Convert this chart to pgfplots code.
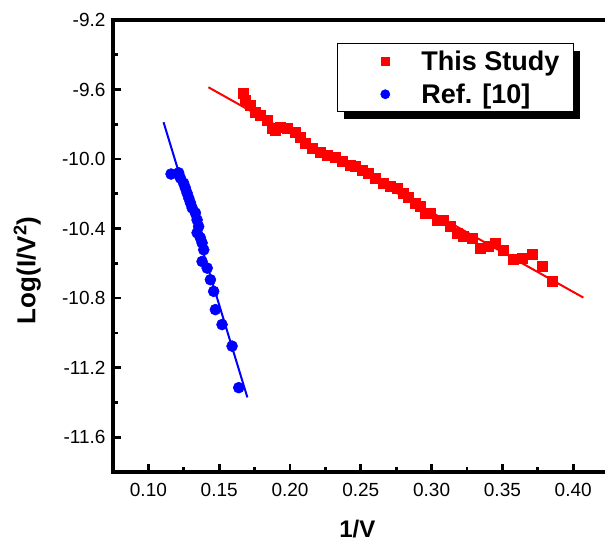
\documentclass[border=0pt]{standalone}
\usepackage{pgfplots}
\pgfplotsset{compat=1.18}
\usepackage{fontspec}
\setmainfont{Liberation Sans}
\usetikzlibrary{shadows}

\pgfplotstableread{
x y
0.1669 -9.623
0.1685 -9.662
0.1720 -9.690
0.1756 -9.729
0.1791 -9.748
0.1838 -9.776
0.1874 -9.824
0.1897 -9.834
0.1932 -9.815
0.1980 -9.824
0.2038 -9.843
0.2073 -9.872
0.2109 -9.910
0.2156 -9.939
0.2215 -9.958
0.2262 -9.977
0.2321 -9.987
0.2368 -10.015
0.2427 -10.034
0.2462 -10.044
0.2509 -10.063
0.2556 -10.082
0.2603 -10.111
0.2662 -10.139
0.2709 -10.159
0.2756 -10.168
0.2803 -10.197
0.2838 -10.218
0.2886 -10.254
0.2921 -10.274
0.2956 -10.311
0.2992 -10.311
0.3039 -10.350
0.3085 -10.350
0.3133 -10.388
0.3180 -10.426
0.3227 -10.446
0.3286 -10.455
0.3345 -10.512
0.3403 -10.503
0.3451 -10.483
0.3509 -10.526
0.3580 -10.579
0.3639 -10.569
0.3710 -10.550
0.3780 -10.618
0.3851 -10.704
}\thisstudy

\pgfplotstableread{
x y
0.1160 -10.086
0.1214 -10.079
0.1226 -10.109
0.1249 -10.139
0.1261 -10.166
0.1273 -10.195
0.1285 -10.224
0.1297 -10.252
0.1309 -10.281
0.1332 -10.310
0.1344 -10.350
0.1355 -10.388
0.1344 -10.424
0.1367 -10.453
0.1379 -10.482
0.1391 -10.522
0.1379 -10.589
0.1415 -10.627
0.1438 -10.694
0.1461 -10.761
0.1473 -10.866
0.1520 -10.952
0.1591 -11.076
0.1638 -11.315
}\reften

\begin{document}
\begin{tikzpicture}
\begin{axis}[
  name=ax,
  scale only axis, width=495.6pt, height=452pt,
  xmin=0.075, xmax=0.425, ymin=-11.8, ymax=-9.2,
  xtick={0.1,0.15,0.2,0.25,0.3,0.35,0.4},
  minor xtick={0.125,0.175,0.225,0.275,0.325,0.375},
  ytick={-11.6,-11.2,-10.8,-10.4,-10.0,-9.6,-9.2},
  minor ytick={-11.4,-11.0,-10.6,-10.2,-9.8,-9.4},
  xtick pos=bottom, ytick pos=left,
  tick align=inside,
  major tick length=8pt, minor tick length=5pt,
  tick style={black, line width=2.7pt},
  axis line style={line width=3.3pt, black},
  /pgf/number format/assume math mode=true,
  xticklabel style={/pgf/number format/fixed, /pgf/number format/fixed zerofill, /pgf/number format/precision=2, yshift=-8pt},
  yticklabel style={/pgf/number format/fixed, /pgf/number format/fixed zerofill, /pgf/number format/precision=1, xshift=-4pt},
  every tick label/.append style={font=\fontsize{19}{22}\selectfont},
  xlabel={1/V}, ylabel={Log(I/V\textsuperscript{2})},
  xlabel style={at={(axis description cs:0.493,-0.127)}, anchor=center, font=\fontsize{24}{28}\selectfont\bfseries},
  ylabel style={at={(axis description cs:-0.173,0.446)}, anchor=center, font=\fontsize{26}{28}\selectfont\bfseries},
  legend style={at={(0.93,0.949)}, anchor=north east, draw=black, line width=1.2pt,
    fill=white, drop shadow={shadow xshift=7pt, shadow yshift=-7pt, fill=black, opacity=1},
    font=\fontsize{27}{30}\selectfont\bfseries, inner xsep=12pt, inner ysep=5pt, row sep=8pt},
  legend cell align=left,
]
\addplot[red, line width=2pt, forget plot] coordinates {(0.1424,-9.587) (0.4072,-10.797)};
\addplot[blue, line width=2pt, forget plot] coordinates {(0.1107,-9.788) (0.1699,-11.371)};
\addplot[only marks, mark=square*, mark size=5pt, red, fill=red, line width=0.5pt,
  legend image code/.code={\pgfpathrectangle{\pgfpoint{0pt}{-1pt}}{\pgfpoint{70pt}{2pt}}\pgfusepath{discard}\draw[only marks,red,fill=red,line width=0.5pt,mark=square*,mark size=4.2pt] plot coordinates {(36pt,0pt)};}] table {\thisstudy};
\addlegendentry{This Study}
\addplot[only marks, mark=*, mark size=5.5pt, blue, fill=blue, line width=0.5pt,
  legend image code/.code={\pgfpathrectangle{\pgfpoint{0pt}{-1pt}}{\pgfpoint{70pt}{2pt}}\pgfusepath{discard}\draw[only marks,blue,fill=blue,line width=0.5pt,mark=*,mark size=4.6pt] plot coordinates {(36pt,0pt)};}] table {\reften};
\addlegendentry{Ref. [10]}
\end{axis}
\pgfresetboundingbox
\path[use as bounding box] ([shift={(-113pt,-70pt)}]ax.south west) rectangle ([shift={(492pt,20pt)}]ax.north west);
\end{tikzpicture}
\end{document}
